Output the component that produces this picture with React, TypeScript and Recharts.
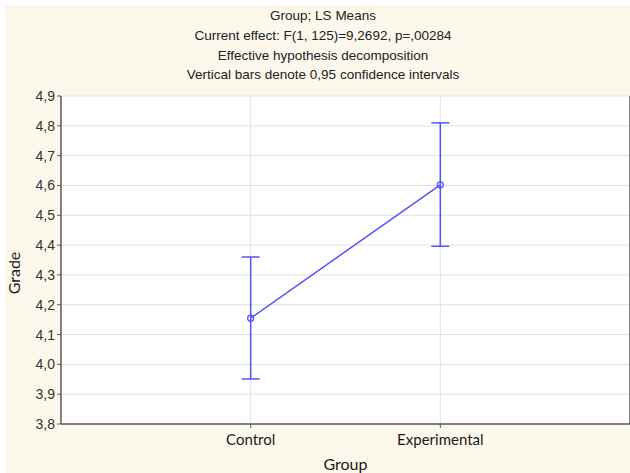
import {
  LineChart,
  Line,
  XAxis,
  YAxis,
  CartesianGrid,
  ErrorBar,
} from "recharts";

// Group LS means with 0,95 confidence limits
const groups = ["Control", "Experimental"];
const means = [4.155, 4.602];
const lowerLimits = [3.951, 4.396];
const upperLimits = [4.36, 4.81];

const yTicks = [3.8, 3.9, 4.0, 4.1, 4.2, 4.3, 4.4, 4.5, 4.6, 4.7, 4.8, 4.9];
const titleLines = [
  "Group; LS Means",
  "Current effect: F(1, 125)=9,2692, p=,00284",
  "Effective hypothesis decomposition",
  "Vertical bars denote 0,95 confidence intervals",
];

const BLUE = "#5252ff";
const AXIS = "#5a5a5a";
const GRID = "#e2e2e2";
const CREAM = "#fdf8ec";

const chartData = groups.map((g, i) => ({
  pos: i + 1,
  group: g,
  mean: means[i],
  ci: [means[i] - lowerLimits[i], upperLimits[i] - means[i]],
}));

const commaNum = (v: number) => v.toFixed(1).replace(".", ",");

function GradeLabel() {
  return (
    <text
      x={20}
      y={273}
      transform="rotate(-90, 20, 273)"
      textAnchor="middle"
      fontFamily="Lato, 'Open Sans', sans-serif"
      fontSize={16}
      fill="#1a1a1a"
    >
      Grade
    </text>
  );
}

export default function App() {
  return (
    <div
      style={{
        position: "absolute",
        left: 0,
        top: 0,
        width: 630,
        height: 473,
        background: "#fff",
      }}
    >
      <div
        style={{
          position: "absolute",
          left: 5,
          top: 5,
          width: 625,
          height: 468,
          background: CREAM,
        }}
      />
      <div
        style={{
          position: "absolute",
          left: 0,
          top: 6,
          width: 646,
          textAlign: "center",
          fontFamily: "'Liberation Sans', Arial, sans-serif",
          fontSize: 13.5,
          lineHeight: "19.8px",
          color: "#222",
        }}
      >
        {titleLines.map((t) => (
          <div key={t}>{t}</div>
        ))}
      </div>
      <div style={{ position: "absolute", left: 0, top: 0 }}>
        <LineChart
          width={630}
          height={473}
          data={chartData}
          margin={{ top: 96, right: 0, bottom: 0, left: 8 }}
        >
          <CartesianGrid
            stroke={GRID}
            fill="#ffffff"
            verticalValues={[1, 2]}
            horizontalValues={yTicks}
          />
          <XAxis
            dataKey="pos"
            type="number"
            domain={[0, 3]}
            ticks={[1, 2]}
            tickFormatter={(v: number) => groups[v - 1]}
            axisLine={{ stroke: AXIS, strokeWidth: 1.5 }}
            tickLine={{ stroke: AXIS }}
            tickSize={4}
            height={49}
            tick={{
              fontFamily: "Lato, 'Open Sans', sans-serif",
              fontSize: 15,
              fill: "#1a1a1a",
              dy: 4,
            }}
            label={{
              value: "Group",
              position: "insideBottom",
              offset: 3,
              fontFamily: "Lato, 'Open Sans', sans-serif",
              fontSize: 16,
              fill: "#1a1a1a",
            }}
          />
          <XAxis
            xAxisId="top"
            orientation="top"
            dataKey="pos"
            type="number"
            domain={[0, 3]}
            ticks={[1, 2]}
            tick={false}
            tickLine={false}
            axisLine={{ stroke: AXIS, strokeWidth: 1.5 }}
            height={0}
          />
          <YAxis
            domain={[3.8, 4.9]}
            ticks={yTicks}
            interval={0}
            tickFormatter={commaNum}
            width={53}
            axisLine={{ stroke: AXIS, strokeWidth: 1.5 }}
            tickLine={{ stroke: AXIS }}
            tickSize={4}
            tick={{
              fontFamily: "'Liberation Sans', Arial, sans-serif",
              fontSize: 14,
              fill: "#333",
            }}
            label={<GradeLabel />}
          />
          <YAxis
            yAxisId="right"
            orientation="right"
            domain={[3.8, 4.9]}
            ticks={yTicks}
            interval={0}
            mirror
            width={3}
            tick={false}
            tickLine={{ stroke: AXIS }}
            tickSize={4}
            axisLine={{ stroke: AXIS, strokeWidth: 1.5 }}
          />
          <Line
            dataKey="mean"
            stroke={BLUE}
            strokeWidth={1.5}
            dot={{ r: 3, stroke: BLUE, strokeWidth: 1.3, fill: "none" }}
            activeDot={false}
            isAnimationActive={false}
          >
            <ErrorBar
              dataKey="ci"
              direction="y"
              width={9}
              stroke={BLUE}
              strokeWidth={1.5}
              isAnimationActive={false}
            />
          </Line>
        </LineChart>
      </div>
    </div>
  );
}
